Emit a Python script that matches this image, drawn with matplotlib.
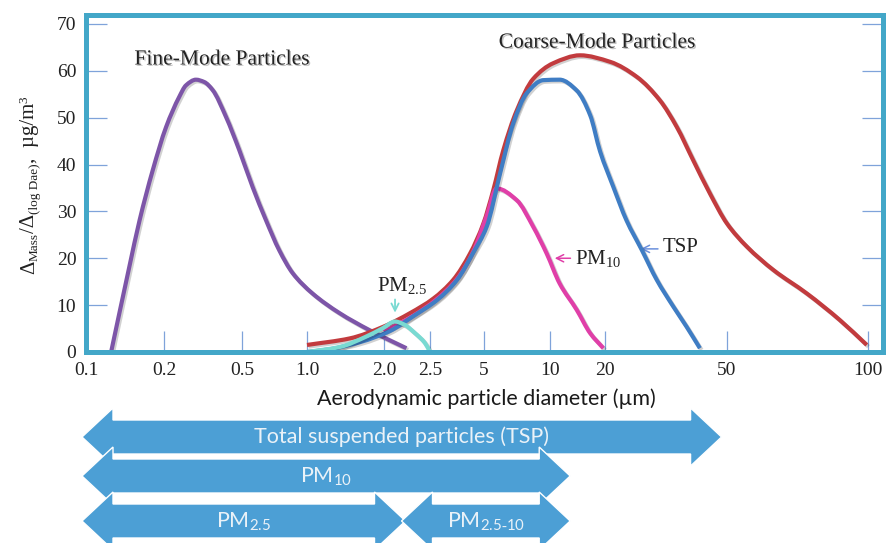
import numpy as np
import matplotlib
matplotlib.use("Agg")
import matplotlib.pyplot as plt
import matplotlib.patheffects as pe
from matplotlib.patches import Polygon, PathPatch
from matplotlib.path import Path
from matplotlib.transforms import IdentityTransform

plt.rcParams["mathtext.fontset"] = "custom"
plt.rcParams["mathtext.rm"] = "Liberation Serif"
plt.rcParams["mathtext.it"] = "Liberation Serif:italic"
plt.rcParams["mathtext.bf"] = "Liberation Serif:bold"
plt.rcParams["mathtext.sf"] = "Lato"

# ---------------- data ----------------
tick_values = [0.1, 0.2, 0.5, 1.0, 2.0, 2.5, 5, 10, 20, 50, 100]
tick_labels = ["0.1", "0.2", "0.5", "1.0", "2.0", "2.5", "5", "10", "20", "50", "100"]

fine_d = [0.125, 0.147, 0.161, 0.181, 0.205, 0.239, 0.259, 0.291, 0.321, 0.354, 0.414,
          0.484, 0.560, 0.646, 0.744, 0.859, 1.05, 1.34, 1.75, 2.23]
fine_v = [0.0, 18.2, 28.1, 38.8, 48.0, 54.4, 56.9, 58.1, 57.6, 55.9, 50.2,
          43.1, 35.2, 28.1, 21.7, 16.8, 12.5, 8.3, 4.7, 0.8]

coarse_d = [1.0, 1.47, 1.99, 2.27, 2.61, 3.37, 4.18, 4.96, 5.51, 6.12, 7.05, 8.39, 10.4,
            14.6, 20.8, 25.4, 30.2, 34.3, 38.8, 44.0, 50.0, 55.1, 62.8, 74.0, 87.1, 99.4]
coarse_v = [1.5, 2.9, 5.4, 8.3, 11.4, 15.4, 21.0, 27.4, 34.5, 43.0, 51.5, 58.3, 61.6,
            63.3, 61.9, 58.7, 53.7, 48.0, 40.9, 33.8, 27.4, 22.5, 17.5, 12.5, 6.8, 1.5]

tsp_d = [1.0, 1.23, 1.61, 2.06, 2.31, 2.74, 3.54, 4.34, 5.14, 5.92, 6.80, 7.83, 9.32,
         11.3, 14.0, 16.6, 18.8, 21.3, 23.5, 26.4, 29.5, 33.4, 36.9, 40.8]
tsp_v = [0.0, 0.6, 2.1, 4.5, 7.7, 11.1, 15.4, 21.1, 26.7, 38.1, 48.8, 55.2, 58.0,
         58.1, 55.8, 50.5, 42.8, 35.2, 28.1, 21.7, 15.4, 9.7, 5.4, 0.8]

pm10_d = [2.0, 2.31, 2.73, 3.54, 4.34, 5.14, 5.71, 7.05, 8.39, 9.66, 11.3, 14.0, 16.6, 19.6]
pm10_v = [4.3, 7.8, 11.3, 15.6, 21.3, 29.0, 34.9, 32.4, 26.7, 21.0, 14.6, 9.0, 4.0, 0.8]

pm25_d = [1.0, 1.35, 1.69, 1.98, 2.11, 2.21, 2.32, 2.44, 2.5]
pm25_v = [0.0, 1.1, 3.2, 5.1, 6.5, 5.8, 4.1, 1.9, 0.0]

y_ticks = [0, 10, 20, 30, 40, 50, 60, 70]

# size-range bars: label, lower and upper diameter
range_labels = ["Total suspended particles (TSP)", r"PM$_{\mathsf{10}}$",
                r"PM$_{\mathsf{2.5}}$", r"PM$_{\mathsf{2.5\text{-}10}}$"]
range_lo = [0.1, 0.1, 0.1, 2.22]
range_hi = [48.0, 12.9, 2.22, 12.9]

# ---------------- axis scale ----------------
# schematic diameter axis: piecewise-linear in log10(d) between tick knots
KL = np.log10(np.array(tick_values, float))
KP = np.array([0, 78, 156, 221, 298, 344, 398, 464, 519, 641, 782], float)
AXIS_SPAN = 797.0


def _fwd(x):
    lx = np.log10(np.clip(np.asarray(x, float), 1e-9, None))
    p = np.interp(lx, KL, KP)
    p = np.where(lx < KL[0], KP[0] + (lx - KL[0]) * (KP[1] - KP[0]) / (KL[1] - KL[0]), p)
    p = np.where(lx > KL[-1], KP[-1] + (lx - KL[-1]) * (KP[-1] - KP[-2]) / (KL[-1] - KL[-2]), p)
    return p


def _inv(p):
    p = np.asarray(p, float)
    lx = np.interp(p, KP, KL)
    lx = np.where(p < KP[0], KL[0] + (p - KP[0]) * (KL[1] - KL[0]) / (KP[1] - KP[0]), lx)
    lx = np.where(p > KP[-1], KL[-1] + (p - KP[-1]) * (KL[-1] - KL[-2]) / (KP[-1] - KP[-2]), lx)
    return 10.0 ** lx


def smooth_path(xd, yd):
    """Monotone (Fritsch-Carlson) cubic through the points, as Bezier segments in scale space."""
    x = _fwd(xd)
    y = np.asarray(yd, float)
    h = np.diff(x)
    d = np.diff(y) / h
    m = np.zeros_like(y)
    m[0], m[-1] = d[0], d[-1]
    for k in range(1, len(y) - 1):
        if d[k - 1] * d[k] > 0:
            w1 = 2 * h[k] + h[k - 1]
            w2 = h[k] + 2 * h[k - 1]
            m[k] = (w1 + w2) / (w1 / d[k - 1] + w2 / d[k])
    verts = [(x[0], y[0])]
    codes = [Path.MOVETO]
    for k in range(len(y) - 1):
        verts += [(x[k] + h[k] / 3, y[k] + m[k] * h[k] / 3),
                  (x[k + 1] - h[k] / 3, y[k + 1] - m[k + 1] * h[k] / 3),
                  (x[k + 1], y[k + 1])]
        codes += [Path.CURVE4] * 3
    verts = np.array(verts)
    verts[:, 0] = _inv(verts[:, 0])
    return Path(verts, codes)


W, H = 889, 543
fig = plt.figure(figsize=(W / 100, H / 100), dpi=100)
ax = fig.add_axes([86 / W, 1 - 352 / H, 797 / W, 337 / H])
ax.set_xscale("function", functions=(_fwd, _inv))
ax.set_xlim(float(_inv(0.0)), float(_inv(AXIS_SPAN)))
ax.set_ylim(0, 71.9)

frame_col = "#43A7C8"
for s in ax.spines.values():
    s.set_color(frame_col)
    s.set_linewidth(3.6)
    s.set_zorder(12)

serif = "Liberation Serif"
ax.set_xticks(tick_values, tick_labels)
ax.set_yticks(y_ticks)
ax.xaxis.set_minor_locator(matplotlib.ticker.NullLocator())
ax.tick_params(axis="both", direction="in", length=15, width=0.9, color="#7FA3DA",
               labelsize=14, labelcolor="#222222", pad=7)
ax.tick_params(axis="y", right=True, labelright=False)
for lab in ax.get_xticklabels() + ax.get_yticklabels():
    lab.set_fontfamily(serif)

shadow = [pe.SimpleLineShadow(offset=(1.2, -1.2), alpha=0.18, shadow_color="k"), pe.Normal()]
lw = 3.0
series = [
    (fine_d, fine_v, "#7D55A8", 3),
    (coarse_d, coarse_v, "#C23B3E", 4),
    (pm10_d, pm10_v, "#E03FA8", 5),
    (tsp_d, tsp_v, "#3F7DC4", 6),
    (pm25_d, pm25_v, "#79DAD2", 7),
]
for xd, yd, col, z in series:
    ax.add_patch(PathPatch(smooth_path(xd, yd), fill=False, edgecolor=col, lw=lw,
                           capstyle="butt", joinstyle="round", path_effects=shadow, zorder=z))

txt_shadow = [pe.withSimplePatchShadow(offset=(1, -1), alpha=0.25)]
ax.text(0.395, 62.3, "Fine-Mode Particles", family=serif, fontsize=15.5, color="#222222",
        ha="center", va="center", path_effects=txt_shadow)
ax.text(18.1, 65.9, "Coarse-Mode Particles", family=serif, fontsize=15.5, color="#222222",
        ha="center", va="center", path_effects=txt_shadow)

# curve call-outs
ax.text(2.18, 14.2, r"PM$_{\mathrm{2.5}}$", family=serif, fontsize=15, color="#222222",
        ha="center", va="center")
ax.annotate("", xy=(2.11, 7.8), xytext=(2.11, 11.8),
            arrowprops=dict(arrowstyle="->", color="#79DAD2", lw=1.3, mutation_scale=13))
ax.text(13.7, 20.0, r"PM$_{\mathrm{10}}$", family=serif, fontsize=15, color="#222222",
        ha="left", va="center")
ax.annotate("", xy=(10.25, 20.0), xytext=(13.4, 20.0),
            arrowprops=dict(arrowstyle="->", color="#E03FA8", lw=1.1, mutation_scale=13))
ax.text(30.9, 22.2, "TSP", family=serif, fontsize=15, color="#222222",
        ha="left", va="center")
ax.annotate("", xy=(25.6, 22.0), xytext=(30.4, 22.0),
            arrowprops=dict(arrowstyle="->", color="#6B90DC", lw=1.1, mutation_scale=13))

fig.text(486 / W, 1 - 399 / H, "Aerodynamic particle diameter (\u00b5m)", family="Lato",
         fontsize=15.5, color="#1a1a1a", ha="center", va="center")

# ---------------- rotated y label assembled from pieces ----------------
fig.canvas.draw()
renderer = fig.canvas.get_renderer()
ylabel_parts = [("\u0394", 15, 0), ("Mass", 9.5, 4), ("/\u0394", 15, 0),
                ("(log Dae)", 9.5, 4), (",  \u00b5g/m", 15, 0), ("3", 9.5, -7)]
base_x, cur_y = 34.0, H - 274.0
for s, fs, dx in ylabel_parts:
    t = fig.text((base_x + dx) / W, cur_y / H, s, family=serif, fontsize=fs, color="#222222",
                 rotation=90, rotation_mode="anchor", ha="left", va="baseline")
    cur_y += t.get_window_extent(renderer).height

# ---------------- double-headed range arrows ----------------
row_y = [437, 476, 521, 521]      # image row centres (px from top)
body_half, head_half, head_len = 17, 29, 31


def double_arrow(x0, x1, yc):
    b, h, L = body_half, head_half, head_len
    return [(x0, yc), (x0 + L, yc + h), (x0 + L, yc + b), (x1 - L, yc + b), (x1 - L, yc + h),
            (x1, yc), (x1 - L, yc - h), (x1 - L, yc - b), (x0 + L, yc - b), (x0 + L, yc - h)]


for i, (lab, lo, hi, yr) in enumerate(zip(range_labels, range_lo, range_hi, row_y)):
    x0 = ax.transData.transform((lo, 0))[0] - 4
    x1 = ax.transData.transform((hi, 0))[0]
    yc = H - yr
    poly = Polygon(double_arrow(x0, x1, yc), closed=True, transform=IdentityTransform(),
                   facecolor="#4C9FD5", edgecolor="white", lw=1.0, zorder=10 + i)
    fig.add_artist(poly)
    fig.text((x0 + x1) / 2 / W, yc / H, lab, family="Lato", fontsize=15.5, color="#EAF2F8",
             ha="center", va="center", zorder=20 + i)

fig.savefig("out.png", dpi=100)
